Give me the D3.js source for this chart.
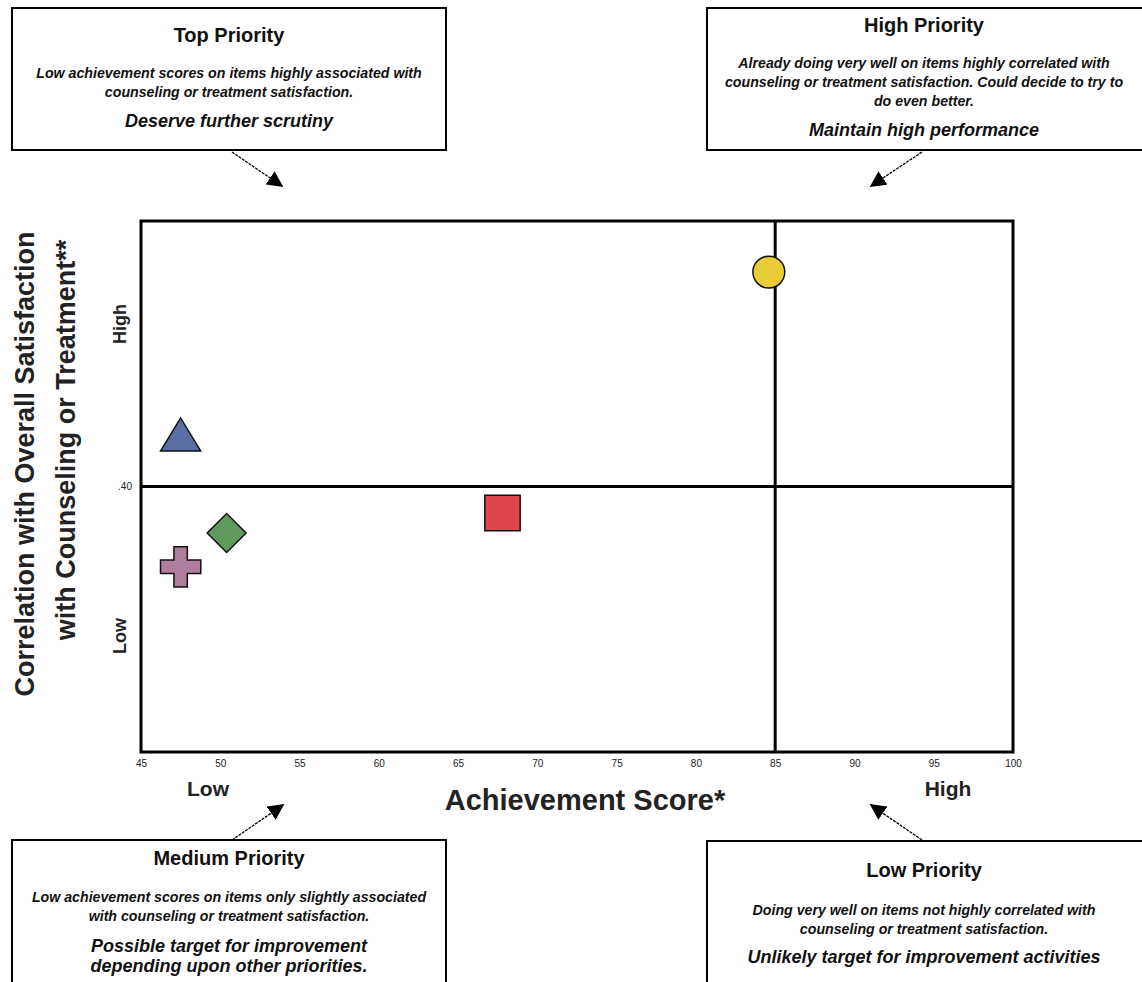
<!DOCTYPE html>
<html>
<head>
<meta charset="utf-8">
<script src="https://cdn.jsdelivr.net/npm/d3@7"></script>
<style>
  body { margin: 0; background: #fff; }
  text { font-family: "Liberation Sans", Arial, sans-serif; }
</style>
</head>
<body>
<script>
// values
var items = ["circle", "triangle", "square", "diamond", "cross"];
var achievement = [84.6, 47.5, 67.8, 50.4, 47.5];
var correlation = [0.723, 0.47, 0.36, 0.33, 0.279];
var colours = ["#e8cd38", "#5b6ea3", "#e0474a", "#5f9a5c", "#b07d9e"];
var xTicks = [45, 50, 55, 60, 65, 70, 75, 80, 85, 90, 95, 100];
var xCut = 85, yCut = 0.40;

var width = 1142, height = 982;
var pLeft = 141, pRight = 1013, pTop = 221, pBottom = 752;

var svg = d3.select("body").append("svg")
    .attr("width", width)
    .attr("height", height);

var x = d3.scaleLinear().domain([45, 100]).range([pLeft, pRight]);
var y = d3.scaleLinear().domain([0, 0.8]).range([pBottom, pTop]);

// quadrant lines
svg.append("line")
    .attr("x1", x(xCut)).attr("x2", x(xCut))
    .attr("y1", pTop).attr("y2", pBottom)
    .attr("stroke", "#000").attr("stroke-width", 3);
svg.append("line")
    .attr("x1", pLeft).attr("x2", pRight)
    .attr("y1", y(yCut)).attr("y2", y(yCut))
    .attr("stroke", "#000").attr("stroke-width", 3);

// x axis tick labels
svg.append("g")
    .attr("transform", "translate(0," + pBottom + ")")
    .call(d3.axisBottom(x).tickValues(xTicks).tickSize(0).tickPadding(8))
    .call(function(g) { g.select(".domain").remove(); })
    .selectAll("text")
    .attr("font-family", "'Liberation Sans', Arial, sans-serif")
    .attr("font-size", 10)
    .attr("fill", "#222");

// y cut label
svg.append("text")
    .attr("x", pLeft - 9).attr("y", y(yCut) + 3)
    .attr("text-anchor", "end")
    .attr("font-size", 10)
    .attr("fill", "#222")
    .text(".40");

// frame
svg.append("rect")
    .attr("x", pLeft).attr("y", pTop)
    .attr("width", pRight - pLeft).attr("height", pBottom - pTop)
    .attr("fill", "none").attr("stroke", "#000").attr("stroke-width", 3);

// markers
var data = items.map(function(d, i) {
    return { shape: d, ax: achievement[i], cor: correlation[i], col: colours[i] };
});
var symbolType = {
    circle: d3.symbolCircle,
    triangle: d3.symbolTriangle,
    square: d3.symbolSquare,
    diamond: d3.symbolSquare,
    cross: d3.symbolCross
};
var symbolSize = { circle: 800, triangle: 700, square: 1250, diamond: 760, cross: 900 };

svg.selectAll("path.mark")
    .data(data)
    .enter().append("path")
    .attr("class", "mark")
    .attr("d", function(d) {
        return d3.symbol().type(symbolType[d.shape]).size(symbolSize[d.shape])();
    })
    .attr("transform", function(d) {
        var t = "translate(" + x(d.ax) + "," + y(d.cor) + ")";
        if (d.shape == "diamond") t += " rotate(45)";
        if (d.shape == "triangle") t += " scale(1,0.95)";
        return t;
    })
    .attr("fill", function(d) { return d.col; })
    .attr("stroke", "#111")
    .attr("stroke-width", 1.5);

// axis titles
svg.append("text")
    .attr("x", 585).attr("y", 810)
    .attr("text-anchor", "middle")
    .attr("font-size", 29).attr("font-weight", "bold")
    .attr("fill", "#222")
    .text("Achievement Score*");
svg.append("text")
    .attr("x", 208).attr("y", 796)
    .attr("text-anchor", "middle")
    .attr("font-size", 21).attr("font-weight", "bold")
    .attr("fill", "#222")
    .text("Low");
svg.append("text")
    .attr("x", 948).attr("y", 796)
    .attr("text-anchor", "middle")
    .attr("font-size", 21).attr("font-weight", "bold")
    .attr("fill", "#222")
    .text("High");

var yTitle = ["Correlation with Overall Satisfaction", "with Counseling or Treatment**"];
svg.selectAll("text.ytitle")
    .data(yTitle)
    .enter().append("text")
    .attr("class", "ytitle")
    .attr("transform", function(d, i) {
        return "translate(" + (34 + i * 41) + "," + (464 - i * 24) + ") rotate(-90)";
    })
    .attr("text-anchor", "middle")
    .attr("font-size", 27).attr("font-weight", "bold")
    .attr("fill", "#222")
    .text(function(d) { return d; });

svg.append("text")
    .attr("transform", "translate(126,324) rotate(-90)")
    .attr("text-anchor", "middle")
    .attr("font-size", 18).attr("font-weight", "bold")
    .attr("fill", "#222")
    .text("High");
svg.append("text")
    .attr("transform", "translate(126,636) rotate(-90)")
    .attr("text-anchor", "middle")
    .attr("font-size", 18).attr("font-weight", "bold")
    .attr("fill", "#222")
    .text("Low");

// note boxes
var boxes = [
    { x: 12, y: 8, w: 434, h: 142, title: "Top Priority", ty: 42,
      body: ["Low achievement scores on items highly associated with",
             "counseling or treatment satisfaction."], by: 78,
      action: ["Deserve further scrutiny"], ay: 127,
      arrow: [232, 152, 282, 186] },
    { x: 707, y: 8, w: 440, h: 142, title: "High Priority", ty: 32,
      body: ["Already doing very well on items highly correlated with",
             "counseling or treatment satisfaction. Could decide to try to",
             "do even better."], by: 68,
      action: ["Maintain high performance"], ay: 136,
      arrow: [922, 152, 871, 186] },
    { x: 12, y: 840, w: 434, h: 150, title: "Medium Priority", ty: 865,
      body: ["Low achievement scores on items only slightly associated",
             "with counseling or treatment satisfaction."], by: 902,
      action: ["Possible target for improvement",
               "depending upon other priorities."], ay: 952,
      arrow: [232, 840, 283, 805] },
    { x: 707, y: 841, w: 440, h: 150, title: "Low Priority", ty: 877,
      body: ["Doing very well on items not highly correlated with",
             "counseling or treatment satisfaction."], by: 915,
      action: ["Unlikely target for improvement activities"], ay: 963,
      arrow: [922, 840, 871, 805] }
];

svg.append("defs").append("marker")
    .attr("id", "head")
    .attr("viewBox", "0 0 10 10")
    .attr("refX", 9).attr("refY", 5)
    .attr("markerWidth", 16).attr("markerHeight", 16)
    .attr("markerUnits", "userSpaceOnUse")
    .attr("orient", "auto")
    .append("path")
    .attr("d", "M0,0 L10,5 L0,10 Z")
    .attr("fill", "#000");

var box = svg.selectAll("g.note")
    .data(boxes)
    .enter().append("g")
    .attr("class", "note");

box.append("rect")
    .attr("x", function(d) { return d.x; })
    .attr("y", function(d) { return d.y; })
    .attr("width", function(d) { return d.w; })
    .attr("height", function(d) { return d.h; })
    .attr("fill", "#fff").attr("stroke", "#000").attr("stroke-width", 2);

box.append("text")
    .attr("x", function(d) { return d.x + d.w / 2 - (d.w > 436 ? 3 : 0); })
    .attr("y", function(d) { return d.ty; })
    .attr("text-anchor", "middle")
    .attr("font-size", 20).attr("font-weight", "bold")
    .attr("fill", "#111")
    .text(function(d) { return d.title; });

box.each(function(d) {
    var g = d3.select(this);
    var cx = d.x + d.w / 2 - (d.w > 436 ? 3 : 0);
    d.body.forEach(function(line, i) {
        g.append("text")
            .attr("x", cx).attr("y", d.by + i * 19)
            .attr("text-anchor", "middle")
            .attr("font-size", 14.2).attr("font-style", "italic").attr("font-weight", "bold")
            .attr("fill", "#111")
            .text(line);
    });
    d.action.forEach(function(line, i) {
        g.append("text")
            .attr("x", cx).attr("y", d.ay + i * 20)
            .attr("text-anchor", "middle")
            .attr("font-size", 18).attr("font-style", "italic").attr("font-weight", "bold")
            .attr("fill", "#111")
            .text(line);
    });
    g.append("line")
        .attr("x1", d.arrow[0]).attr("y1", d.arrow[1])
        .attr("x2", d.arrow[2]).attr("y2", d.arrow[3])
        .attr("stroke", "#000").attr("stroke-width", 1.3)
        .attr("stroke-dasharray", "3,1")
        .attr("marker-end", "url(#head)");
});
</script>
</body>
</html>
